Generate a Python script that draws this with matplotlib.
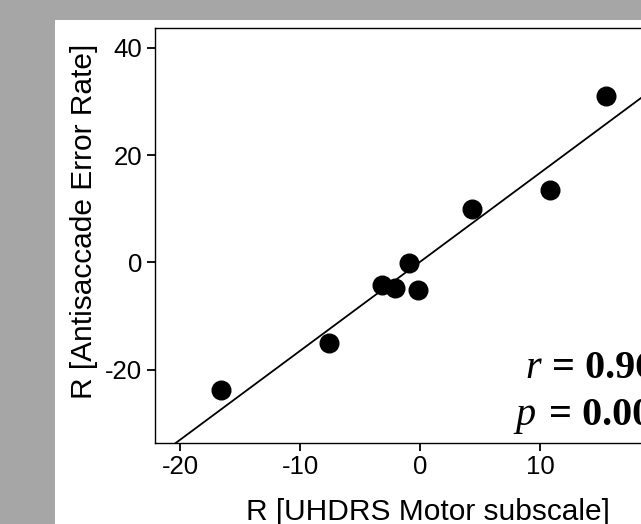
import numpy as np
import matplotlib.pyplot as plt
from matplotlib.patches import Rectangle

# residuals
motor = np.array([-16.6, -7.6, -3.2, -2.1, -0.9, -0.2, 4.3, 10.8, 15.5])
antisaccade = np.array([-23.8, -15.0, -4.3, -4.8, -0.2, -5.2, 10.0, 13.4, 31.0])
xticks = [-20, -10, 0, 10, 20]
yticks = [-20, 0, 20, 40]
r_text = "= 0.96"
p_text = "= 0.000"

plt.rcParams['font.family'] = 'Liberation Sans'
plt.rcParams['axes.unicode_minus'] = False

fig = plt.figure(figsize=(6.41, 5.24), dpi=100)
fig.patch.set_facecolor('#a6a6a6')
# white panel (cropped at right and bottom)
fig.patches.append(Rectangle((55 / 641, 0), 1, 1 - 20 / 524, transform=fig.transFigure,
                             facecolor='white', edgecolor='none', zorder=-10))

ax = fig.add_axes([155 / 641, 1 - 443 / 524, 545 / 641, 415 / 524])
ax.set_facecolor('white')

slope, icpt = np.polyfit(motor, antisaccade, 1)
xx = np.array([-25, 30])
ax.plot(xx, slope * xx + icpt, color='black', lw=1.3, zorder=2)
ax.scatter(motor, antisaccade, s=180, color='black', zorder=3)

ax.set_xlim(-22.1, 23.3)
ax.set_ylim(-33.7, 43.7)
ax.set_xticks(xticks)
ax.set_yticks(yticks)
ax.tick_params(direction='out', length=6, width=1.3, labelsize=18.5, pad=3, colors='black')
for s in ax.spines.values():
    s.set_linewidth(1.0)

ax.set_xlabel('R [UHDRS Motor subscale]', fontsize=21.5, labelpad=13)
ax.set_ylabel('R [Antisaccade Error Rate]', fontsize=21.5)
ax.yaxis.set_label_coords(-0.104, 0.534)

serif = 'Liberation Serif'
ax.text(8.75, -21.6, 'r', fontsize=29, family=serif, style='italic', ha='left', va='baseline')
ax.text(11.0, -21.6, r_text, fontsize=29, family=serif, weight='bold', ha='left', va='baseline')
ax.text(7.9, -30.4, 'p', fontsize=29, family=serif, style='italic', ha='left', va='baseline')
ax.text(10.7, -30.4, p_text, fontsize=29, family=serif, weight='bold', ha='left', va='baseline')

fig.savefig('out.png', dpi=100, facecolor=fig.get_facecolor())
